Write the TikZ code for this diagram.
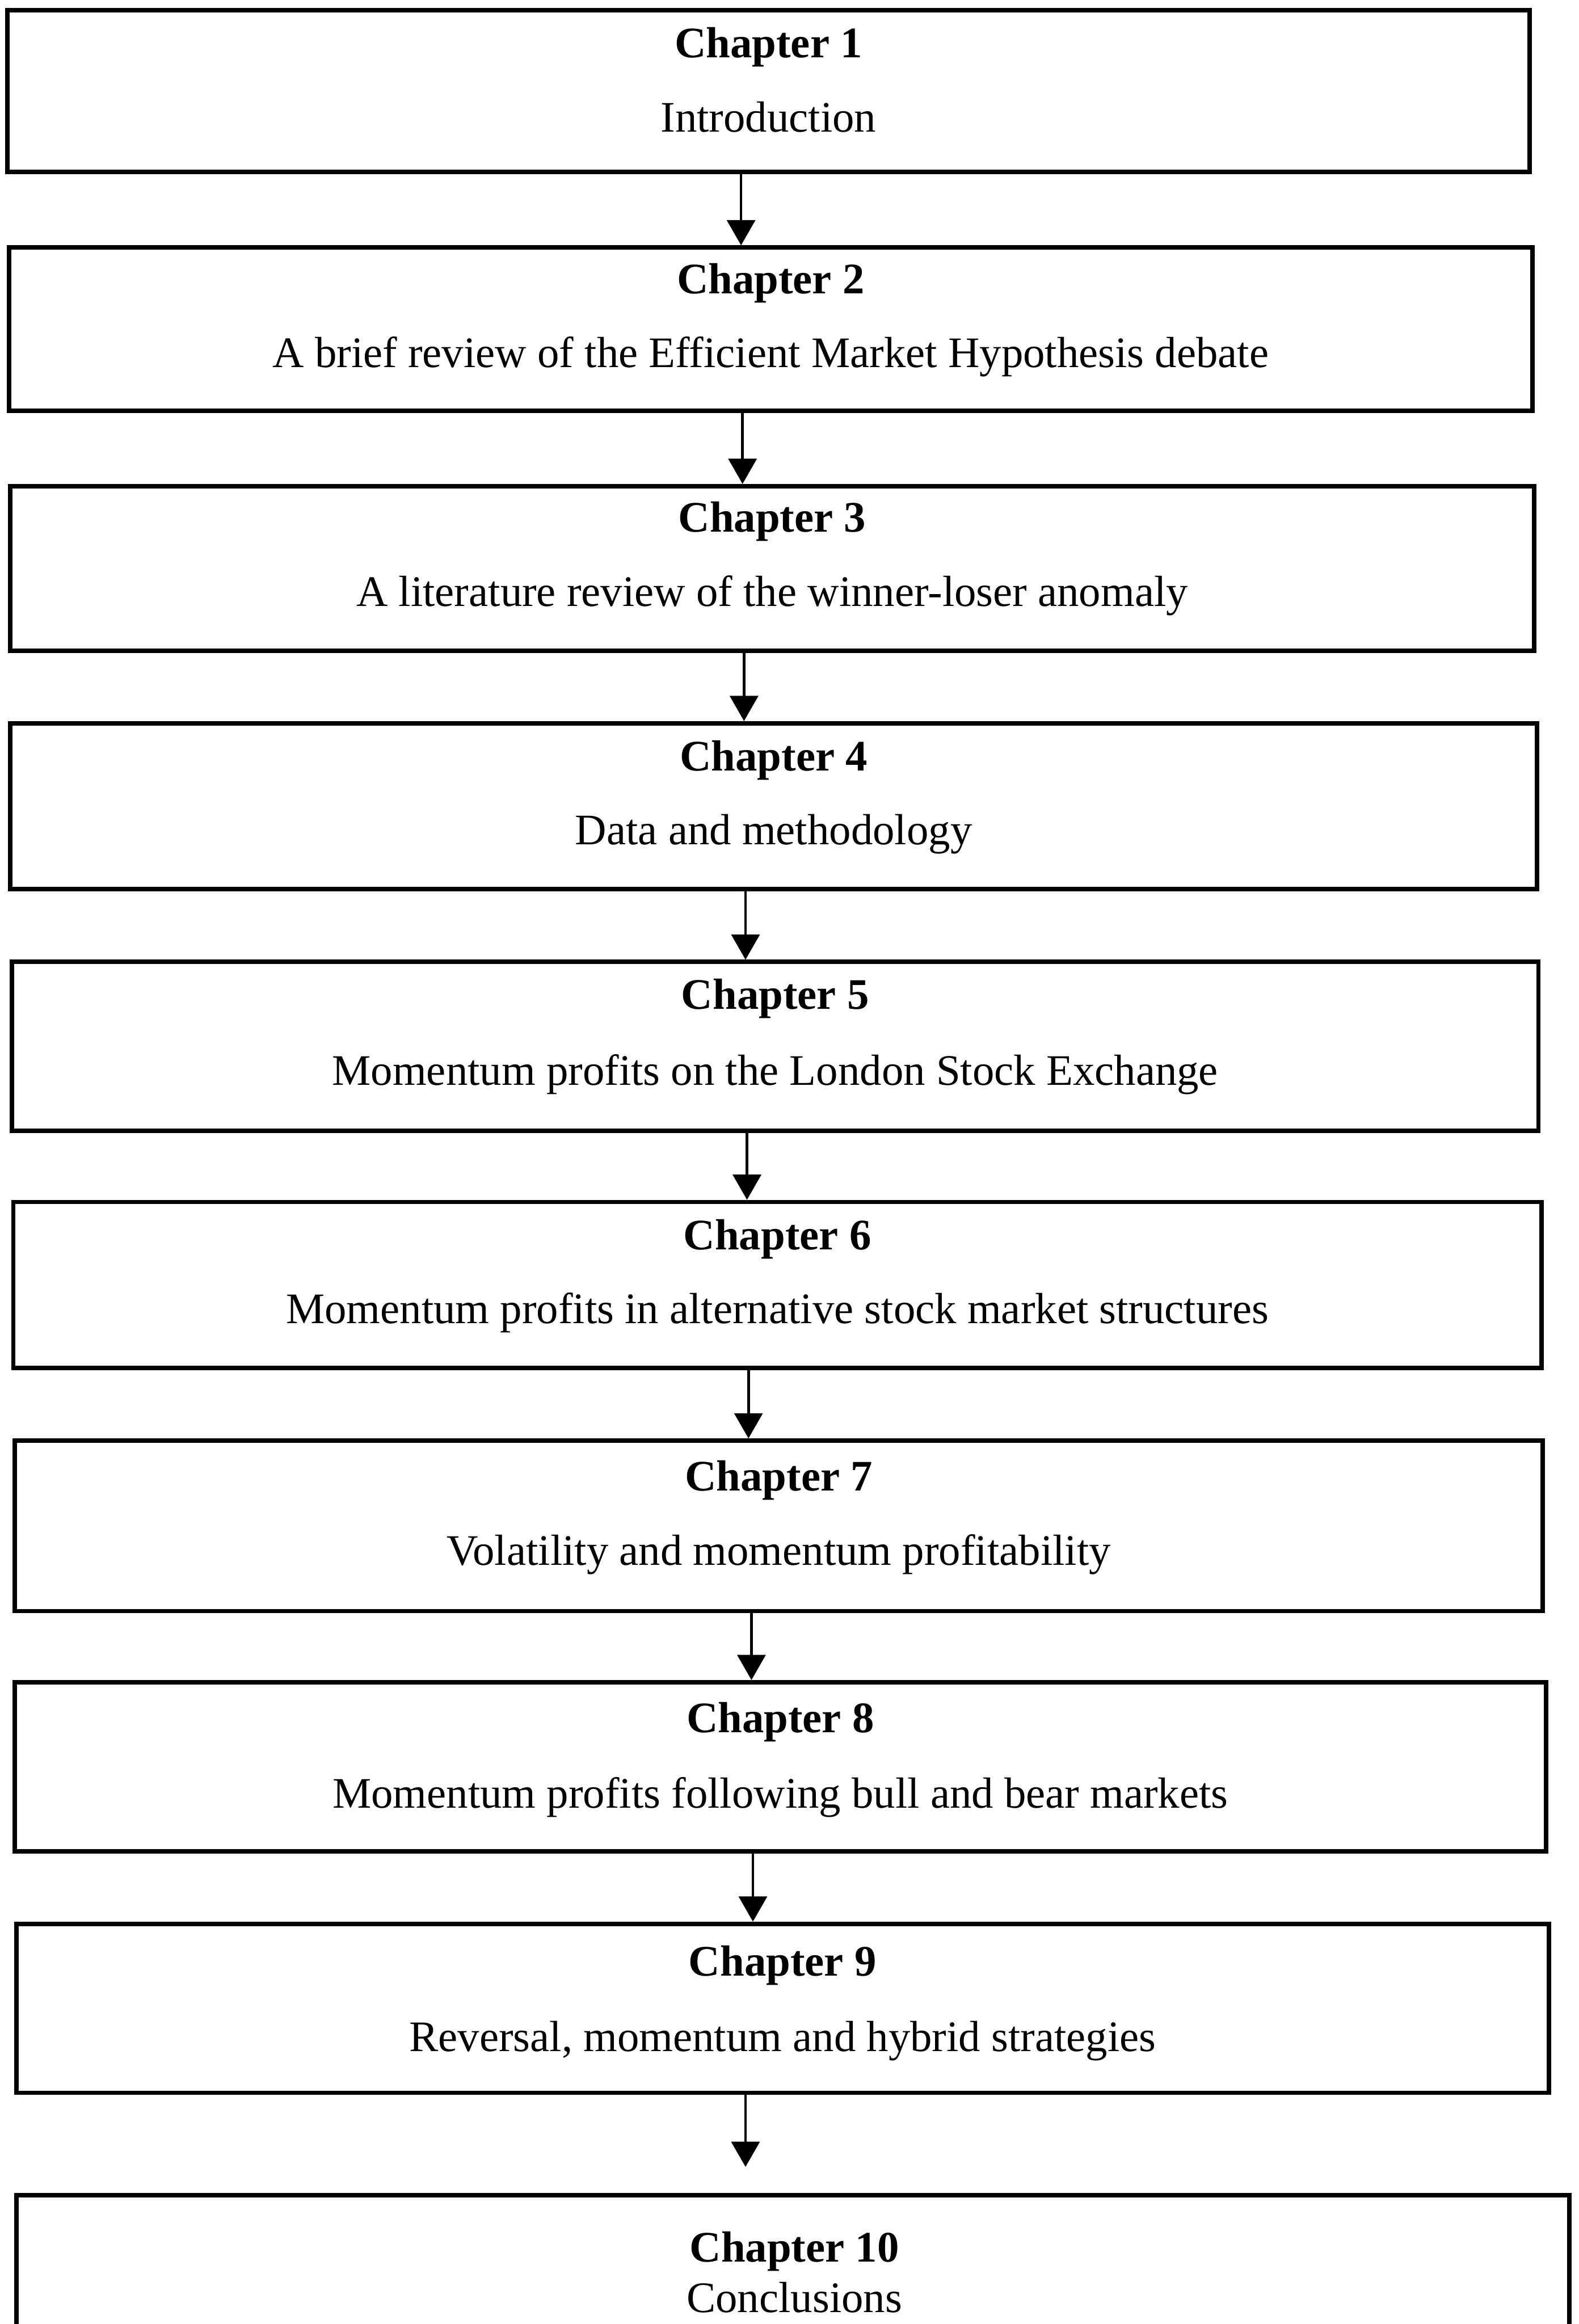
\documentclass[tikz,border=0pt]{standalone}
\usepackage{fontspec}
\setmainfont{Liberation Serif}
\usetikzlibrary{arrows.meta,fit}
\begin{document}
\begin{tikzpicture}[x=0.5pt,y=-0.5pt,
  chbox/.style={draw=black,line width=1.5pt,rectangle,inner sep=0pt},
  ttl/.style={anchor=base,font=\fontsize{14.7}{17}\selectfont\bfseries,inner sep=0pt},
  sub/.style={anchor=base,font=\fontsize{14.7}{17}\selectfont,inner sep=0pt},
  arr/.style={line width=0.9pt,-{Triangle[width=9.5pt,length=8.5pt]}}]
\useasboundingbox (0,0) rectangle (1065,1568);
\clip (0,0) rectangle (1065,1568);

% boxes
\node[chbox,fit={(5,7) (1032,116)}] (b1) {};
\node[chbox,fit={(6,167) (1034,277)}] (b2) {};
\node[chbox,fit={(7,328) (1035,439)}] (b3) {};
\node[chbox,fit={(7,488) (1037,600)}] (b4) {};
\node[chbox,fit={(8,649) (1038,763)}] (b5) {};
\node[chbox,fit={(9,811) (1040,923)}] (b6) {};
\node[chbox,fit={(10,972) (1041,1087)}] (b7) {};
\node[chbox,fit={(10,1135) (1043,1249)}] (b8) {};
\node[chbox,fit={(11,1298) (1045,1412)}] (b9) {};
\node[chbox,fit={(11,1481) (1059,1660)}] (b10) {};

% texts
\node[ttl] (t1) at (518.5,39) {Chapter 1};
\node[sub] (s1) at (518.5,89) {Introduction};
\node[ttl] (t2) at (520,198) {Chapter 2};
\node[sub] (s2) at (520,248) {A brief review of the Efficient Market Hypothesis debate};
\node[ttl] (t3) at (521,359) {Chapter 3};
\node[sub] (s3) at (521,409) {A literature review of the winner-loser anomaly};
\node[ttl] (t4) at (522,520) {Chapter 4};
\node[sub] (s4) at (522,570) {Data and methodology};
\node[ttl] (t5) at (523,681) {Chapter 5};
\node[sub] (s5) at (523,732) {Momentum profits on the London Stock Exchange};
\node[ttl] (t6) at (524.5,843) {Chapter 6};
\node[sub] (s6) at (524.5,893) {Momentum profits in alternative stock market structures};
\node[ttl] (t7) at (525.5,1006) {Chapter 7};
\node[sub] (s7) at (525.5,1056) {Volatility and momentum profitability};
\node[ttl] (t8) at (526.5,1169) {Chapter 8};
\node[sub] (s8) at (526.5,1220) {Momentum profits following bull and bear markets};
\node[ttl] (t9) at (528,1333) {Chapter 9};
\node[sub] (s9) at (528,1384) {Reversal, momentum and hybrid strategies};
\node[ttl] (t10) at (536,1526) {Chapter 10};
\node[sub] (s10) at (536,1560) {Conclusions};

% arrow x positions
\coordinate (x1) at (500,0);
\coordinate (x2) at (501,0);
\coordinate (x3) at (502,0);
\coordinate (x4) at (503,0);
\coordinate (x5) at (504,0);
\coordinate (x6) at (505,0);
\coordinate (x7) at (507,0);
\coordinate (x8) at (508,0);
\coordinate (e9) at (503,1462);

\draw[arr] (b1.south -| x1) -- (b2.north -| x1);
\draw[arr] (b2.south -| x2) -- (b3.north -| x2);
\draw[arr] (b3.south -| x3) -- (b4.north -| x3);
\draw[arr] (b4.south -| x4) -- (b5.north -| x4);
\draw[arr] (b5.south -| x5) -- (b6.north -| x5);
\draw[arr] (b6.south -| x6) -- (b7.north -| x6);
\draw[arr] (b7.south -| x7) -- (b8.north -| x7);
\draw[arr] (b8.south -| x8) -- (b9.north -| x8);
\draw[arr] (b9.south -| e9) -- (e9);
\end{tikzpicture}
\end{document}
